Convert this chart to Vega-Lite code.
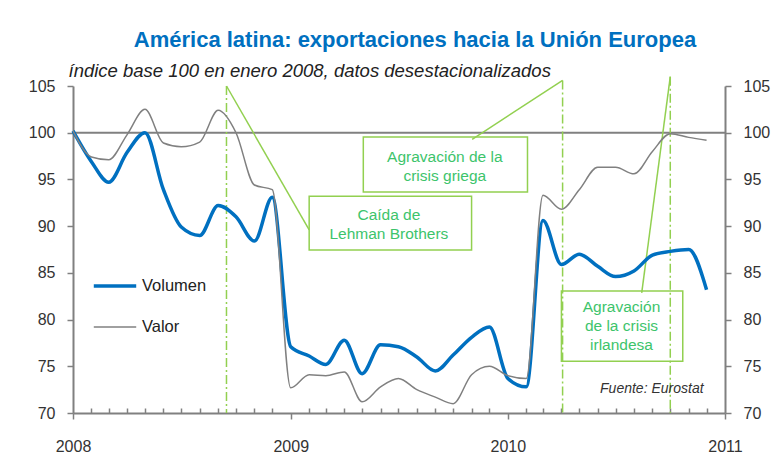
{
  "$schema": "https://vega.github.io/schema/vega-lite/v6.json",
  "width": 652,
  "height": 327,
  "autosize": {"type": "none"},
  "padding": {"left": 73, "top": 86, "right": 50, "bottom": 59},
  "background": "white",
  "config": {
    "view": {"stroke": null},
    "font": "Liberation Sans",
    "text": {"font": "Liberation Sans"}
  },
  "title": {
    "text": "América latina: exportaciones  hacia la Unión Europea",
    "font": "Liberation Sans",
    "fontSize": 22,
    "fontWeight": "bold",
    "color": "#0070C0",
    "anchor": "middle",
    "frame": "group",
    "dx": 16,
    "offset": 9
  },
  "datasets": {
    "series": [
      {"fecha": "2008-01-01", "serie": "Volumen", "indice": 100.2},
      {"fecha": "2008-02-01", "serie": "Volumen", "indice": 96.9},
      {"fecha": "2008-03-01", "serie": "Volumen", "indice": 94.7},
      {"fecha": "2008-04-01", "serie": "Volumen", "indice": 97.9},
      {"fecha": "2008-05-01", "serie": "Volumen", "indice": 100.0},
      {"fecha": "2008-06-01", "serie": "Volumen", "indice": 93.9},
      {"fecha": "2008-07-01", "serie": "Volumen", "indice": 89.9},
      {"fecha": "2008-08-01", "serie": "Volumen", "indice": 89.0},
      {"fecha": "2008-09-01", "serie": "Volumen", "indice": 92.2},
      {"fecha": "2008-10-01", "serie": "Volumen", "indice": 91.0},
      {"fecha": "2008-11-01", "serie": "Volumen", "indice": 88.4},
      {"fecha": "2008-12-01", "serie": "Volumen", "indice": 93.1},
      {"fecha": "2009-01-01", "serie": "Volumen", "indice": 77.1},
      {"fecha": "2009-02-01", "serie": "Volumen", "indice": 76.1},
      {"fecha": "2009-03-01", "serie": "Volumen", "indice": 75.2},
      {"fecha": "2009-04-01", "serie": "Volumen", "indice": 77.8},
      {"fecha": "2009-05-01", "serie": "Volumen", "indice": 74.2},
      {"fecha": "2009-06-01", "serie": "Volumen", "indice": 77.3},
      {"fecha": "2009-07-01", "serie": "Volumen", "indice": 77.1},
      {"fecha": "2009-08-01", "serie": "Volumen", "indice": 76.0},
      {"fecha": "2009-09-01", "serie": "Volumen", "indice": 74.5},
      {"fecha": "2009-10-01", "serie": "Volumen", "indice": 76.2},
      {"fecha": "2009-11-01", "serie": "Volumen", "indice": 78.1},
      {"fecha": "2009-12-01", "serie": "Volumen", "indice": 79.2},
      {"fecha": "2010-01-01", "serie": "Volumen", "indice": 73.7},
      {"fecha": "2010-02-01", "serie": "Volumen", "indice": 72.8},
      {"fecha": "2010-03-01", "serie": "Volumen", "indice": 90.6},
      {"fecha": "2010-04-01", "serie": "Volumen", "indice": 85.9},
      {"fecha": "2010-05-01", "serie": "Volumen", "indice": 87.0},
      {"fecha": "2010-06-01", "serie": "Volumen", "indice": 85.7},
      {"fecha": "2010-07-01", "serie": "Volumen", "indice": 84.6},
      {"fecha": "2010-08-01", "serie": "Volumen", "indice": 85.2},
      {"fecha": "2010-09-01", "serie": "Volumen", "indice": 86.9},
      {"fecha": "2010-10-01", "serie": "Volumen", "indice": 87.3},
      {"fecha": "2010-11-01", "serie": "Volumen", "indice": 87.5},
      {"fecha": "2010-12-01", "serie": "Volumen", "indice": 83.2},
      {"fecha": "2008-01-01", "serie": "Valor", "indice": 100.2},
      {"fecha": "2008-02-01", "serie": "Valor", "indice": 97.4},
      {"fecha": "2008-03-01", "serie": "Valor", "indice": 97.1},
      {"fecha": "2008-04-01", "serie": "Valor", "indice": 99.8},
      {"fecha": "2008-05-01", "serie": "Valor", "indice": 102.5},
      {"fecha": "2008-06-01", "serie": "Valor", "indice": 98.9},
      {"fecha": "2008-07-01", "serie": "Valor", "indice": 98.5},
      {"fecha": "2008-08-01", "serie": "Valor", "indice": 99.0},
      {"fecha": "2008-09-01", "serie": "Valor", "indice": 102.4},
      {"fecha": "2008-10-01", "serie": "Valor", "indice": 100.0},
      {"fecha": "2008-11-01", "serie": "Valor", "indice": 94.4},
      {"fecha": "2008-12-01", "serie": "Valor", "indice": 93.9},
      {"fecha": "2009-01-01", "serie": "Valor", "indice": 72.7},
      {"fecha": "2009-02-01", "serie": "Valor", "indice": 74.1},
      {"fecha": "2009-03-01", "serie": "Valor", "indice": 74.0},
      {"fecha": "2009-04-01", "serie": "Valor", "indice": 74.4},
      {"fecha": "2009-05-01", "serie": "Valor", "indice": 71.2},
      {"fecha": "2009-06-01", "serie": "Valor", "indice": 72.8},
      {"fecha": "2009-07-01", "serie": "Valor", "indice": 73.7},
      {"fecha": "2009-08-01", "serie": "Valor", "indice": 72.5},
      {"fecha": "2009-09-01", "serie": "Valor", "indice": 71.7},
      {"fecha": "2009-10-01", "serie": "Valor", "indice": 71.0},
      {"fecha": "2009-11-01", "serie": "Valor", "indice": 74.1},
      {"fecha": "2009-12-01", "serie": "Valor", "indice": 75.0},
      {"fecha": "2010-01-01", "serie": "Valor", "indice": 74.0},
      {"fecha": "2010-02-01", "serie": "Valor", "indice": 73.7},
      {"fecha": "2010-03-01", "serie": "Valor", "indice": 93.3},
      {"fecha": "2010-04-01", "serie": "Valor", "indice": 91.8},
      {"fecha": "2010-05-01", "serie": "Valor", "indice": 93.9},
      {"fecha": "2010-06-01", "serie": "Valor", "indice": 96.3},
      {"fecha": "2010-07-01", "serie": "Valor", "indice": 96.3},
      {"fecha": "2010-08-01", "serie": "Valor", "indice": 95.6},
      {"fecha": "2010-09-01", "serie": "Valor", "indice": 98.0},
      {"fecha": "2010-10-01", "serie": "Valor", "indice": 99.9},
      {"fecha": "2010-11-01", "serie": "Valor", "indice": 99.5},
      {"fecha": "2010-12-01", "serie": "Valor", "indice": 99.2}
    ],
    "eventos": [
      {"evento": "Caída de|Lehman Brothers", "fecha": "2008-09-15", "cima": 105.0, "fecha_caja": "2009-02-01", "indice_caja": 89.6, "caja_ini": "2009-02-01", "caja_fin": "2009-11-01", "caja_sup": 93.2, "caja_inf": 87.45, "texto_fecha": "2009-06-15", "texto_indice": 91.15},
      {"evento": "Agravación de la|crisis griega", "fecha": "2010-04-03", "cima": 105.6, "fecha_caja": "2009-11-02", "indice_caja": 99.3, "caja_ini": "2009-05-03", "caja_fin": "2010-02-03", "caja_sup": 99.55, "caja_inf": 93.65, "texto_fecha": "2009-09-17", "texto_indice": 97.35},
      {"evento": "Agravación|de la crisis|irlandesa", "fecha": "2010-10-01", "cima": 106.0, "fecha_caja": "2010-08-14", "indice_caja": 82.85, "caja_ini": "2010-04-01", "caja_fin": "2010-10-22", "caja_sup": 83.05, "caja_inf": 75.55, "texto_fecha": "2010-07-11", "texto_indice": 81.3}
    ]
  },
  "layer": [
    {
      "data": {"values": [{"base": 100}]},
      "mark": {"type": "rule", "color": "#808080", "strokeWidth": 2},
      "encoding": {
        "y": {
          "field": "base", "type": "quantitative",
          "scale": {"domain": [70, 105], "nice": false, "zero": false},
          "axis": {
            "orient": "right", "title": null, "values": [70, 75, 80, 85, 90, 95, 100, 105],
            "grid": false, "domainColor": "#808080", "domainWidth": 2, "tickColor": "#808080",
            "tickWidth": 1.5, "tickSize": 6, "labelFontSize": 16, "labelColor": "#333333",
            "labelPadding": 12, "labelFont": "Liberation Sans"
          }
        }
      }
    },
    {
      "data": {"name": "eventos"},
      "mark": {"type": "rule", "color": "#92D050", "strokeWidth": 1.5, "strokeDash": [9, 3, 2, 3], "clip": false},
      "encoding": {
        "x": {"field": "fecha", "type": "temporal"},
        "y": {"field": "cima", "type": "quantitative", "axis": null},
        "y2": {"datum": 70}
      }
    },
    {
      "data": {"name": "eventos"},
      "mark": {"type": "rule", "color": "#92D050", "strokeWidth": 1.5, "clip": false},
      "encoding": {
        "x": {"field": "fecha", "type": "temporal"},
        "x2": {"field": "fecha_caja"},
        "y": {"field": "cima", "type": "quantitative", "axis": null},
        "y2": {"field": "indice_caja"}
      }
    },
    {
      "data": {"name": "eventos"},
      "mark": {"type": "rect", "fill": null, "fillOpacity": 0, "stroke": "#92D050", "strokeWidth": 1.5},
      "encoding": {
        "x": {"field": "caja_ini", "type": "temporal"},
        "x2": {"field": "caja_fin"},
        "y": {"field": "caja_sup", "type": "quantitative", "axis": null},
        "y2": {"field": "caja_inf"}
      }
    },
    {
      "data": {"name": "eventos"},
      "mark": {"type": "text", "color": "#3DC46B", "fontSize": 15.5, "lineBreak": "|", "lineHeight": 19, "align": "center", "baseline": "middle"},
      "encoding": {
        "x": {"field": "texto_fecha", "type": "temporal"},
        "y": {"field": "texto_indice", "type": "quantitative", "axis": null},
        "text": {"field": "evento"}
      }
    },
    {
      "data": {"values": [{"fuente": "Fuente: Eurostat"}]},
      "mark": {"type": "text", "color": "#333333", "fontSize": 14, "fontStyle": "italic", "align": "right", "baseline": "middle"},
      "encoding": {
        "x": {"datum": {"year": 2010, "month": 11, "date": 26, "utc": true}, "type": "temporal"},
        "y": {"datum": 72.6, "type": "quantitative", "axis": null},
        "text": {"field": "fuente"}
      }
    },
    {
      "data": {"name": "series"},
      "mark": {"type": "line", "interpolate": "monotone"},
      "encoding": {
        "x": {
          "field": "fecha", "type": "temporal",
          "scale": {"type": "utc", "domain": [{"year": 2008, "month": 1, "date": 1, "utc": true}, {"year": 2011, "month": 1, "date": 1, "utc": true}]},
          "axis": {
            "title": null, "grid": false, "tickCount": {"interval": "month", "step": 1},
            "labelExpr": "utcmonth(datum.value) == 0 ? utcFormat(datum.value, '%Y') : ''",
            "labelOverlap": false, "labelFlush": false, "labelBound": false,
            "domainColor": "#808080", "domainWidth": 2, "tickColor": "#808080", "tickWidth": 1.5,
            "tickSize": {"condition": {"test": "utcmonth(datum.value) == 0", "value": 6}, "value": -5},
            "labelFontSize": 16, "labelColor": "#333333", "labelPadding": 19, "labelFont": "Liberation Sans"
          }
        },
        "y": {
          "field": "indice", "type": "quantitative",
          "axis": {
            "orient": "left", "values": [70, 75, 80, 85, 90, 95, 100, 105],
            "title": "índice base 100 en enero 2008, datos desestacionalizados",
            "titleAngle": 0, "titleAlign": "left", "titleBaseline": "alphabetic", "titleX": -5, "titleY": -10,
            "titleFont": "Liberation Sans", "titleFontSize": 18.5, "titleFontStyle": "italic", "titleFontWeight": "normal", "titleColor": "#222222",
            "grid": false, "domainColor": "#808080", "domainWidth": 2, "tickColor": "#808080",
            "tickWidth": 1.5, "tickSize": 6, "labelFontSize": 16, "labelColor": "#333333",
            "labelPadding": 12, "labelFont": "Liberation Sans"
          }
        },
        "color": {
          "field": "serie", "type": "nominal",
          "scale": {"domain": ["Volumen", "Valor"], "range": ["#0070C0", "#808080"]},
          "legend": {
            "title": null, "orient": "none", "legendX": 19, "legendY": 177,
            "symbolType": "stroke", "symbolSize": 1800, "symbolStrokeWidth": 3,
            "labelFontSize": 16.5, "labelColor": "#222222", "labelFont": "Liberation Sans", "rowPadding": 10, "labelOffset": 4
          }
        },
        "strokeWidth": {
          "field": "serie", "type": "nominal",
          "scale": {"domain": ["Volumen", "Valor"], "range": [3.5, 1.5]},
          "legend": {
            "title": null, "orient": "none", "legendX": 19, "legendY": 177,
            "symbolType": "stroke", "symbolSize": 1800,
            "labelFontSize": 16.5, "labelColor": "#222222", "labelFont": "Liberation Sans", "rowPadding": 10, "labelOffset": 4
          }
        }
      }
    }
  ],
  "resolve": {"axis": {"y": "independent"}}
}
